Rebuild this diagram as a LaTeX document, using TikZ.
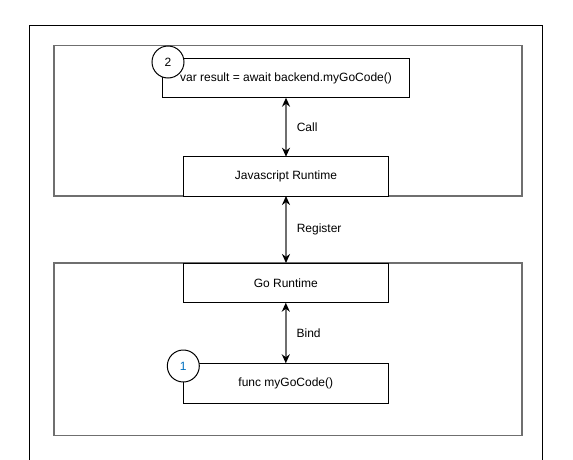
\documentclass[tikz,border=0pt]{standalone}
\usepackage{fontspec}
\setmainfont{Liberation Sans}
\usetikzlibrary{arrows.meta}
\definecolor{grpgrey}{HTML}{6F6F6F}
\definecolor{numblue}{HTML}{0070C0}
\begin{document}
\begin{tikzpicture}[x=1pt,y=-1pt,
  every node/.style={font=\fontsize{12}{14}\selectfont},
  grp/.style={draw=grpgrey,line width=1.6pt,inner sep=0pt,outer sep=0pt},
  codebox/.style={draw=black,line width=1pt,fill=white,inner sep=0pt,outer sep=0pt},
  numcirc/.style={circle,draw=black,line width=1pt,fill=white,inner sep=0pt,minimum size=32pt},
  link/.style={draw=grpgrey,line width=1.6pt,{Stealth[length=9pt,width=8pt,color=black]}-{Stealth[length=9pt,width=8pt,color=black]}},
  lbl/.style={midway,anchor=west,xshift=10pt,inner sep=0pt}]
\useasboundingbox[fill=white] (0,0) rectangle (573,460);
% outer frame (extends past the bottom)
\draw[line width=1pt] (29.5,470) -- (29.5,25.3) -- (542,25.3) -- (542,470);
% groups
\node[grp,minimum width=468.3pt,minimum height=150.3pt] (topgrp) at (287.85,120.85) {};
\node[grp,minimum width=468.3pt,minimum height=172.3pt] (botgrp) at (287.85,349.15) {};
% boxes
\node[codebox,minimum width=246.6pt,minimum height=39.4pt] (call) at (286,78) {};
\node[numcirc] (c2) at (168,62) {2};
\node[inner sep=0pt] (calltxt) at (call.center) {var result = await backend.myGoCode()};
\node[codebox,minimum width=205.4pt,minimum height=39.3pt] (js) at (286,176.35) {Javascript Runtime};
\node[codebox,minimum width=205pt,minimum height=39.7pt] (go) at (285.8,282.85) {Go Runtime};
\node[codebox,minimum width=205pt,minimum height=40pt] (func) at (285.8,383.3) {func myGoCode()};
\node[numcirc,text=numblue] (c1) at (183.3,366) {1};
% connectors
\draw[link] (call.south) -- (js.north) node[lbl] {Call};
\draw[link] (js.south) -- (js.south |- go.north) node[lbl] {Register};
\draw[link] (go.south) -- (go.south |- func.north) node[lbl] {Bind};
\end{tikzpicture}
\end{document}
